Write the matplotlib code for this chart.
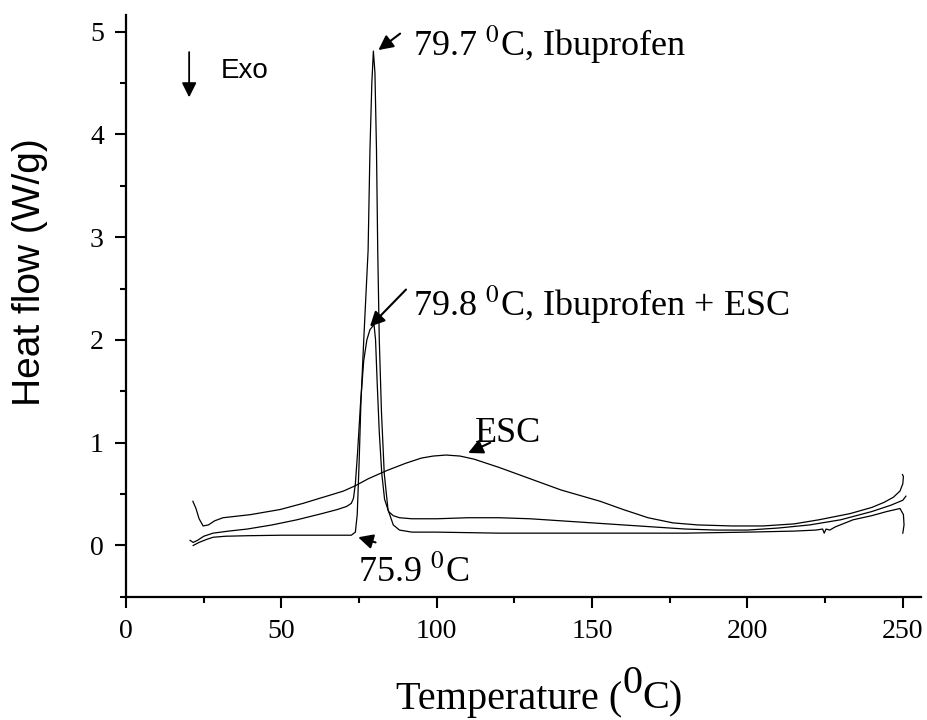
import matplotlib
matplotlib.use("Agg")
import matplotlib.pyplot as plt
from matplotlib.ticker import MultipleLocator

plt.rcParams['font.family'] = 'Liberation Serif'
plt.rcParams['mathtext.fontset'] = 'stix'

# DSC traces, temperature in degC and heat flow in W/g
ibuTemp = [21.6, 23.5, 26, 28, 32, 39, 50, 60, 70, 72.5, 73.8, 74.4, 75.0, 75.6, 76.5,
           77.9, 78.5, 79.1, 79.6, 80.1, 80.6, 81.0, 81.5, 82.2, 83.1, 84.3, 86, 88, 92,
           100, 120, 150, 180, 200, 215, 222, 224.2, 224.7, 225.3, 226.5, 228.2, 234,
           240, 244.8, 249.1, 250.2, 250.4, 250.0]
ibuFlow = [0.0, 0.03, 0.06, 0.08, 0.09, 0.095, 0.1, 0.1, 0.1, 0.1, 0.13, 0.3, 0.8, 1.4,
           2.0, 2.87, 3.85, 4.5, 4.81, 4.6, 3.85, 2.87, 2.0, 1.3, 0.7, 0.35, 0.2, 0.15,
           0.13, 0.13, 0.12, 0.12, 0.12, 0.13, 0.14, 0.15, 0.16, 0.12, 0.16, 0.15, 0.18,
           0.25, 0.29, 0.33, 0.36, 0.30, 0.2, 0.12]

mixTemp = [20.6, 21.6, 23, 25, 28, 33, 39, 47, 55, 63, 68, 71, 72.5, 73.2, 73.8, 74.5,
           75.5, 76.5, 77.5, 78.5, 79.3, 79.8, 80.3, 80.8, 81.5, 82.3, 83.2, 84.5, 86,
           88, 92, 100, 110, 120, 130, 140, 150, 160, 170, 180, 190, 200, 210, 220, 230,
           240, 246, 250, 251]
mixFlow = [0.05, 0.03, 0.05, 0.09, 0.12, 0.14, 0.16, 0.2, 0.25, 0.31, 0.35, 0.38, 0.41,
           0.46, 0.6, 0.9, 1.4, 1.8, 2.0, 2.1, 2.13, 2.15, 2.0, 1.6, 1.1, 0.7, 0.45, 0.33,
           0.29, 0.27, 0.26, 0.26, 0.27, 0.27, 0.26, 0.24, 0.22, 0.2, 0.18, 0.16, 0.15,
           0.15, 0.17, 0.2, 0.25, 0.33, 0.39, 0.44, 0.48]

escTemp = [21.5, 22.5, 23.5, 24.8, 26.5, 28.5, 31.2, 40, 49.6, 57, 62.4, 65.7, 70, 73.7,
           78, 84, 90, 95, 98.8, 103, 107.5, 112, 120, 130, 140, 152.6, 160, 168,
           176, 184, 195, 205, 215, 223, 233, 240, 244, 247, 249.1, 250.0, 250.2, 249.9]
escFlow = [0.43, 0.36, 0.26, 0.19, 0.2, 0.24, 0.27, 0.3, 0.35, 0.41, 0.46, 0.49, 0.53,
           0.58, 0.65, 0.73, 0.8, 0.85, 0.87, 0.88, 0.87, 0.84, 0.76, 0.65, 0.54, 0.43,
           0.35, 0.27, 0.22, 0.2, 0.19, 0.19, 0.21, 0.25, 0.31, 0.37, 0.42, 0.47, 0.53,
           0.6, 0.67, 0.69]

fig = plt.figure(figsize=(9.27, 7.2), dpi=100)
ax = fig.add_axes([0.136, 0.171, 0.858, 0.808])

for temps, flows in [(ibuTemp, ibuFlow), (mixTemp, mixFlow), (escTemp, escFlow)]:
    ax.plot(temps, flows, color='black', linewidth=0.9)

ax.set_xlim(0, 256)
ax.set_ylim(-0.5, 5.16)
ax.xaxis.set_major_locator(MultipleLocator(50))
ax.xaxis.set_minor_locator(MultipleLocator(25))
ax.yaxis.set_major_locator(MultipleLocator(1))
ax.yaxis.set_minor_locator(MultipleLocator(0.5))
ax.spines['top'].set_visible(False)
ax.spines['right'].set_visible(False)
ax.spines['left'].set_linewidth(1.6)
ax.spines['bottom'].set_linewidth(1.6)
ax.tick_params(which='major', direction='out', length=8, width=1.5, labelsize=20, pad=8)
ax.tick_params(which='minor', direction='out', length=4, width=1.5)

ax.set_ylabel('Heat flow (W/g)', family='Liberation Sans', fontsize=28)
ax.yaxis.set_label_coords(-0.098, 0.558)

# x label pieced together so the 0 sits raised at full size
t1 = fig.text(0.427, 0.003, 'Temperature (', fontsize=29, va='bottom', ha='left')
t2 = ax.annotate('0', xy=(1, 0.42), xycoords=t1, fontsize=29, va='bottom', ha='left',
                 annotation_clip=False)
t3 = ax.annotate('C)', xy=(1, 0), xycoords=(t2, t1), fontsize=29, va='bottom', ha='left',
                 annotation_clip=False)

# exo direction marker
ax.annotate('', xy=(20.3, 4.36), xytext=(20.3, 4.8),
            arrowprops=dict(arrowstyle='-|>', color='black', lw=1.3, mutation_scale=22,
                            shrinkA=0, shrinkB=0))
ax.text(30.5, 4.62, 'Exo', family='Liberation Sans', fontsize=20, va='center')

arrowStyle = dict(arrowstyle='-|>', color='black', lw=1.5, mutation_scale=22, shrinkA=0, shrinkB=0)
ax.annotate('', xy=(81.2, 4.82), xytext=(88.2, 4.98), arrowprops=arrowStyle)
ax.text(92.5, 4.87, r'79.7 $^{0}$C, Ibuprofen', fontsize=26, va='center')

ax.annotate('', xy=(78.5, 2.13), xytext=(90.1, 2.49), arrowprops=arrowStyle)
ax.text(92.5, 2.34, r'79.8 $^{0}$C, Ibuprofen + ESC', fontsize=26, va='center')

ax.annotate('', xy=(110.1, 0.9), xytext=(117.2, 1.0), arrowprops=arrowStyle)
ax.text(112.3, 1.09, 'ESC', fontsize=26, va='center')

ax.annotate('', xy=(74.7, 0.08), xytext=(80.3, 0.03), arrowprops=arrowStyle)
ax.text(74.5, -0.27, r'75.9 $^{0}$C', fontsize=26, va='center')

fig.savefig('out.png', dpi=100)
